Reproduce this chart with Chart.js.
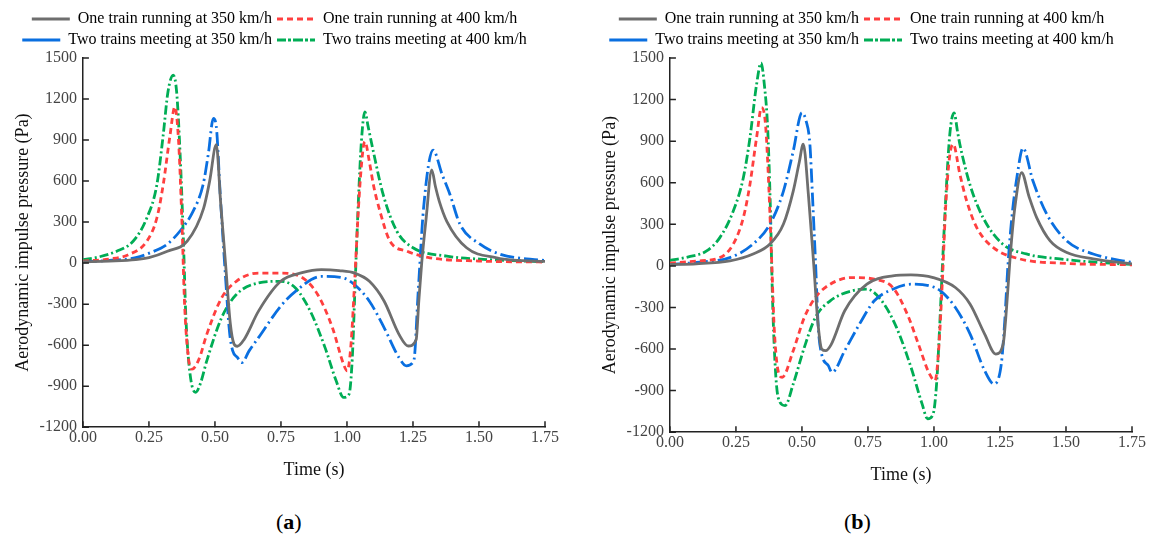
<!DOCTYPE html>
<html lang="en">
<head>
    <meta charset="UTF-8">
    <title>Aerodynamic impulse pressure</title>
    <script src="https://cdn.jsdelivr.net/npm/chart.js@4.4.0/dist/chart.umd.min.js"></script>
    <style>
        body { margin: 0; background: #fff; width: 1160px; height: 543px; position: relative; overflow: hidden; }
        .panel { position: absolute; top: 0; width: 580px; }
        .caption { position: absolute; top: 509px; font-family: "Liberation Serif", serif; font-size: 22px; color: #000; }
    </style>
</head>
<body>
    <div class="panel" style="left:0px; height:490px;"><canvas id="chartA"></canvas></div>
    <div class="panel" style="left:587px; height:495px;"><canvas id="chartB"></canvas></div>
    <div class="caption" style="left:276px;">(<b>a</b>)</div>
    <div class="caption" style="left:844px;">(<b>b</b>)</div>

    <script>
        // series labels
        const seriesLabels = [
            'One train running at 350 km/h',
            'One train running at 400 km/h',
            'Two trains meeting at 350 km/h',
            'Two trains meeting at 400 km/h'
        ];
        const xTicks = [0, 0.25, 0.5, 0.75, 1.0, 1.25, 1.5, 1.75];
        const yTicks = [-1200, -900, -600, -300, 0, 300, 600, 900, 1200, 1500];

        // ---- panel (a) ----
        const aGrayT = [0, 0.1, 0.2, 0.25, 0.32, 0.395, 0.457, 0.48, 0.505, 0.522, 0.54, 0.558, 0.572, 0.585, 0.61, 0.665, 0.749, 0.83, 0.903, 0.97, 1.029, 1.085, 1.141, 1.197, 1.232, 1.262, 1.272, 1.283, 1.30, 1.321, 1.335, 1.35, 1.378, 1.453, 1.567, 1.63, 1.75];
        const aGrayP = [10, 15, 25, 40, 87, 160, 400, 600, 866, 430, 0, -440, -590, -608, -560, -351, -133, -70, -48, -55, -73, -133, -279, -521, -606, -560, -280, 0, 330, 682, 560, 450, 306, 112, 39, 22, 12];

        const aRedT = [0, 0.1, 0.17, 0.242, 0.28, 0.304, 0.33, 0.348, 0.362, 0.375, 0.385, 0.40, 0.413, 0.44, 0.469, 0.525, 0.581, 0.665, 0.749, 0.833, 0.889, 0.945, 0.987, 1.001, 1.015, 1.03, 1.045, 1.06, 1.068, 1.085, 1.10, 1.125, 1.163, 1.227, 1.314, 1.5, 1.75];
        const aRedP = [15, 30, 60, 160, 330, 573, 936, 1143, 900, 300, -300, -700, -776, -700, -521, -255, -133, -73, -73, -109, -230, -473, -739, -788, -600, -100, 450, 820, 888, 740, 573, 378, 160, 87, 39, 15, 8];

        const aBlueT = [0, 0.1, 0.2, 0.254, 0.318, 0.367, 0.417, 0.455, 0.475, 0.494, 0.505, 0.52, 0.54, 0.555, 0.567, 0.585, 0.602, 0.63, 0.665, 0.749, 0.805, 0.903, 0.987, 1.029, 1.085, 1.141, 1.197, 1.225, 1.253, 1.27, 1.29, 1.326, 1.36, 1.39, 1.428, 1.504, 1.58, 1.75];
        const aBlueP = [10, 20, 40, 75, 137, 233, 378, 573, 800, 1058, 1000, 500, -100, -500, -640, -690, -727, -640, -545, -315, -206, -97, -109, -158, -279, -473, -691, -751, -715, -200, 400, 827, 650, 502, 284, 138, 65, 18];

        const aGreenT = [0, 0.06, 0.128, 0.19, 0.242, 0.28, 0.304, 0.322, 0.342, 0.355, 0.368, 0.38, 0.39, 0.405, 0.427, 0.445, 0.469, 0.525, 0.581, 0.665, 0.749, 0.805, 0.861, 0.917, 0.959, 0.987, 1.008, 1.02, 1.03, 1.042, 1.055, 1.068, 1.08, 1.10, 1.137, 1.189, 1.25, 1.378, 1.504, 1.75];
        const aGreenP = [25, 45, 87, 160, 330, 573, 936, 1252, 1375, 1250, 800, 200, -400, -800, -945, -880, -715, -400, -230, -145, -133, -182, -351, -618, -860, -982, -958, -700, -200, 400, 900, 1106, 1000, 815, 502, 233, 112, 51, 29, 10];

        // ---- panel (b) ----
        const bGrayT = [0, 0.1, 0.227, 0.315, 0.379, 0.43, 0.467, 0.49, 0.505, 0.525, 0.545, 0.56, 0.575, 0.59, 0.61, 0.662, 0.746, 0.844, 0.913, 0.997, 1.081, 1.137, 1.192, 1.234, 1.262, 1.275, 1.288, 1.305, 1.332, 1.36, 1.389, 1.44, 1.503, 1.603, 1.75];
        const bGrayP = [10, 15, 36, 86, 158, 302, 540, 750, 878, 500, 0, -400, -600, -612, -570, -324, -132, -72, -65, -84, -156, -276, -492, -636, -564, -300, 50, 400, 672, 500, 348, 180, 96, 50, 15];

        const bRedT = [0, 0.1, 0.189, 0.24, 0.278, 0.303, 0.328, 0.347, 0.362, 0.375, 0.386, 0.395, 0.41, 0.425, 0.467, 0.509, 0.551, 0.607, 0.69, 0.774, 0.844, 0.899, 0.941, 0.983, 1.004, 1.018, 1.032, 1.045, 1.06, 1.073, 1.098, 1.124, 1.162, 1.225, 1.326, 1.5, 1.75];
        const bRedP = [20, 35, 60, 158, 348, 588, 923, 1142, 1020, 550, 0, -450, -760, -804, -612, -372, -228, -132, -84, -96, -156, -348, -564, -780, -828, -600, -100, 450, 800, 878, 662, 468, 276, 132, 50, 18, 8];

        const bBlueT = [0, 0.1, 0.227, 0.315, 0.379, 0.43, 0.467, 0.5, 0.515, 0.53, 0.54, 0.552, 0.562, 0.575, 0.6, 0.614, 0.662, 0.718, 0.774, 0.844, 0.913, 0.983, 1.025, 1.081, 1.137, 1.192, 1.227, 1.255, 1.268, 1.28, 1.295, 1.315, 1.337, 1.375, 1.427, 1.503, 1.603, 1.73, 1.75];
        const bBlueP = [10, 25, 60, 158, 302, 540, 828, 1106, 1050, 880, 500, 0, -450, -640, -720, -768, -612, -420, -252, -168, -132, -144, -180, -300, -492, -756, -852, -708, -400, 0, 350, 650, 850, 612, 374, 180, 86, 31, 25];

        const bGreenT = [0, 0.07, 0.139, 0.189, 0.24, 0.278, 0.303, 0.328, 0.345, 0.358, 0.37, 0.38, 0.388, 0.398, 0.41, 0.436, 0.467, 0.509, 0.551, 0.607, 0.69, 0.746, 0.802, 0.858, 0.913, 0.955, 0.976, 0.997, 1.01, 1.02, 1.032, 1.045, 1.06, 1.076, 1.09, 1.098, 1.136, 1.186, 1.26, 1.35, 1.477, 1.6, 1.75];
        const bGreenP = [40, 65, 108, 204, 396, 636, 923, 1307, 1464, 1300, 1000, 450, -200, -700, -950, -1008, -852, -588, -372, -252, -180, -168, -252, -444, -732, -996, -1104, -1068, -850, -500, 0, 500, 950, 1104, 960, 878, 588, 348, 158, 86, 50, 28, 10];

        const colors = ['#6e6e6e', '#ff3f3f', '#0a6fe0', '#00ad55'];
        const dashes = [[], [6, 4], [14, 4, 2, 4], [9, 3, 2, 3]];

        const toPoints = (t, p) => t.map((v, i) => ({ x: v, y: p[i] }));

        // small tick marks pointing into the plot
        const inwardTicks = {
            id: 'inwardTicks',
            afterDraw(chart) {
                const { ctx, chartArea, scales } = chart;
                ctx.save();
                ctx.strokeStyle = '#222';
                ctx.lineWidth = 1.5;
                ctx.beginPath();
                scales.x.ticks.forEach(t => {
                    const px = scales.x.getPixelForValue(t.value);
                    ctx.moveTo(px, chartArea.bottom);
                    ctx.lineTo(px, chartArea.bottom - 6);
                });
                scales.y.ticks.forEach(t => {
                    const py = scales.y.getPixelForValue(t.value);
                    ctx.moveTo(chartArea.left, py);
                    ctx.lineTo(chartArea.left + 6, py);
                });
                ctx.stroke();
                ctx.restore();
            }
        };

        function makeChart(id, series) {
            return new Chart(document.getElementById(id), {
                type: 'line',
                data: {
                    datasets: series.map((s, i) => ({
                        label: seriesLabels[i],
                        data: toPoints(s[0], s[1]),
                        borderColor: colors[i],
                        backgroundColor: colors[i],
                        borderWidth: 2.8,
                        borderDash: dashes[i],
                        pointRadius: 0,
                        fill: false,
                        cubicInterpolationMode: 'monotone'
                    }))
                },
                options: {
                    responsive: true,
                    maintainAspectRatio: false,
                    animation: false,
                    layout: { padding: { left: 4, right: 35, top: 6, bottom: 7 } },
                    plugins: {
                        tooltip: { enabled: false },
                        legend: {
                            align: 'center',
                            labels: {
                                boxWidth: 38,
                                boxHeight: 0,
                                padding: 5,
                                color: '#000',
                                font: { family: 'Liberation Serif', size: 16 }
                            }
                        }
                    },
                    scales: {
                        x: {
                            type: 'linear',
                            min: 0,
                            max: 1.75,
                            afterBuildTicks: (axis) => { axis.ticks = xTicks.map(v => ({ value: v })); },
                            grid: { display: false, drawTicks: false },
                            border: { display: true, color: '#222', width: 1.5 },
                            ticks: {
                                color: '#444',
                                padding: 1,
                                maxRotation: 0,
                                font: { family: 'Liberation Serif', size: 16 },
                                callback: (v) => Number(v).toFixed(2)
                            },
                            title: {
                                display: true,
                                text: 'Time (s)',
                                color: '#111',
                                padding: { top: 11, bottom: 2 },
                                font: { family: 'Liberation Serif', size: 18 }
                            }
                        },
                        y: {
                            min: -1200,
                            max: 1500,
                            afterBuildTicks: (axis) => { axis.ticks = yTicks.map(v => ({ value: v })); },
                            grid: { display: false, drawTicks: false },
                            border: { display: true, color: '#222', width: 1.5 },
                            ticks: {
                                color: '#444',
                                padding: 6,
                                font: { family: 'Liberation Serif', size: 16 },
                                callback: (v) => String(v)
                            },
                            title: {
                                display: true,
                                text: 'Aerodynamic impulse pressure (Pa)',
                                color: '#111',
                                padding: { top: 8, bottom: 0 },
                                font: { family: 'Liberation Serif', size: 18 }
                            }
                        }
                    }
                },
                plugins: [inwardTicks]
            });
        }

        makeChart('chartA', [[aGrayT, aGrayP], [aRedT, aRedP], [aBlueT, aBlueP], [aGreenT, aGreenP]]);
        makeChart('chartB', [[bGrayT, bGrayP], [bRedT, bRedP], [bBlueT, bBlueP], [bGreenT, bGreenP]]);
    </script>
</body>
</html>
